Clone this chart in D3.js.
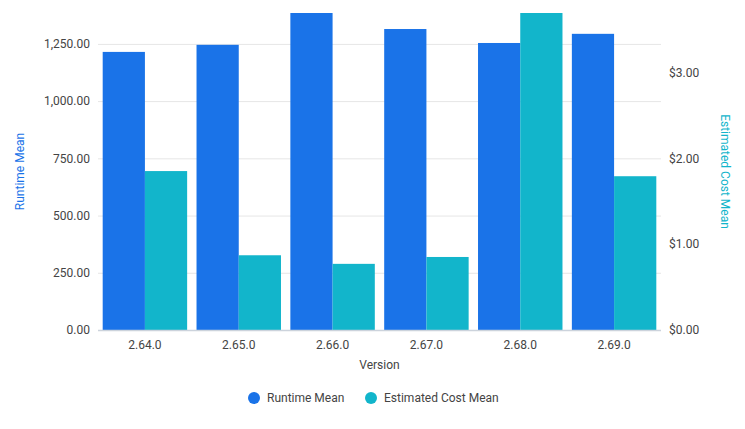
<!DOCTYPE html>
<html>
<head>
<meta charset="utf-8">
<script src="https://cdn.jsdelivr.net/npm/d3@7"></script>
<style>
  body { margin: 0; background: #fff; }
  svg text { font-family: Roboto, "Noto Sans", sans-serif; }
</style>
</head>
<body>
<div id="chart"></div>
<script>
// data
const versions = ["2.64.0", "2.65.0", "2.66.0", "2.67.0", "2.68.0", "2.69.0"];
const runtimeMean = [1215, 1246, 1385, 1315, 1254, 1294];
const costMean = [1.85, 0.87, 0.77, 0.85, 3.69, 1.79];
const runtimeTicks = [0, 250, 500, 750, 1000, 1250];
const costTicks = [0, 1, 2, 3];
const seriesNames = ["Runtime Mean", "Estimated Cost Mean"];

const colors = ["#1a73e8", "#12b5cb"];

const W = 745, H = 429;
const margin = { top: 13, right: 84, bottom: 99, left: 98 },
  width = W - margin.left - margin.right,
  height = H - margin.top - margin.bottom;

const svg = d3.select("#chart")
  .append("svg")
  .attr("width", W)
  .attr("height", H);

const g = svg.append("g")
  .attr("transform", "translate(" + margin.left + "," + margin.top + ")");

const x = d3.scaleBand()
  .domain(versions)
  .range([0, width])
  .paddingInner(0.1)
  .paddingOuter(0.05);

const x1 = d3.scaleBand()
  .domain([0, 1])
  .range([0, x.bandwidth()]);

const yLeft = d3.scaleLinear()
  .domain([0, d3.max(runtimeMean)])
  .range([height, 0]);

const yRight = d3.scaleLinear()
  .domain([0, d3.max(costMean)])
  .range([height, 0]);

// gridlines from the left axis
g.append("g")
  .selectAll("line")
  .data(runtimeTicks.slice(1))
  .enter().append("line")
  .attr("x1", 0)
  .attr("x2", width)
  .attr("y1", d => yLeft(d) + 0.5)
  .attr("y2", d => yLeft(d) + 0.5)
  .attr("stroke", "#e6e6e6")
  .attr("stroke-width", 1);

// bars
const groups = g.selectAll(".grp")
  .data(versions.map((v, i) => ({ v, vals: [runtimeMean[i], costMean[i]] })))
  .enter().append("g")
  .attr("class", "grp")
  .attr("transform", d => "translate(" + x(d.v) + ",0)");

groups.append("rect")
  .attr("x", x1(0))
  .attr("width", x1.bandwidth())
  .attr("y", d => yLeft(d.vals[0]))
  .attr("height", d => height - yLeft(d.vals[0]))
  .attr("fill", colors[0]);

groups.append("rect")
  .attr("x", x1(1))
  .attr("width", x1.bandwidth())
  .attr("y", d => yRight(d.vals[1]))
  .attr("height", d => height - yRight(d.vals[1]))
  .attr("fill", colors[1]);

// baseline
g.append("line")
  .attr("x1", 0)
  .attr("x2", width)
  .attr("y1", height + 0.5)
  .attr("y2", height + 0.5)
  .attr("stroke", "#ccd3dc")
  .attr("stroke-width", 1.5);

// left axis
const leftAxis = g.append("g")
  .call(d3.axisLeft(yLeft).tickValues(runtimeTicks).tickFormat(d3.format(",.2f")).tickSize(0).tickPadding(8));
leftAxis.select(".domain").remove();
leftAxis.selectAll("text").attr("fill", "#444").style("font-size", "12px");

// right axis
const rightAxis = g.append("g")
  .attr("transform", "translate(" + width + ",0)")
  .call(d3.axisRight(yRight).tickValues(costTicks).tickFormat(d3.format("$.2f")).tickSize(0).tickPadding(8));
rightAxis.select(".domain").remove();
rightAxis.selectAll("text").attr("fill", "#444").style("font-size", "12px");

// bottom axis
const bottomAxis = g.append("g")
  .attr("transform", "translate(0," + height + ")")
  .call(d3.axisBottom(x).tickSize(0).tickPadding(10));
bottomAxis.select(".domain").remove();
bottomAxis.selectAll("text").attr("fill", "#444").style("font-size", "12px");

// axis titles
g.append("text")
  .attr("transform", "translate(" + (20 - margin.left) + "," + (height / 2) + ") rotate(-90)")
  .attr("text-anchor", "middle")
  .attr("dominant-baseline", "central")
  .attr("fill", colors[0])
  .style("font-size", "12px")
  .text("Runtime Mean");

g.append("text")
  .attr("transform", "translate(" + (width + 64) + "," + (height / 2) + ") rotate(90)")
  .attr("text-anchor", "middle")
  .attr("dominant-baseline", "central")
  .attr("fill", colors[1])
  .style("font-size", "12px")
  .text("Estimated Cost Mean");

g.append("text")
  .attr("x", width / 2)
  .attr("y", height + 35)
  .attr("text-anchor", "middle")
  .attr("dominant-baseline", "central")
  .attr("fill", "#444")
  .style("font-size", "12px")
  .text("Version");

// legend
const legendX = [254, 371];
const legend = svg.append("g")
  .selectAll("g")
  .data(seriesNames)
  .enter().append("g")
  .attr("transform", (d, i) => "translate(" + legendX[i] + ",398)");

legend.append("circle")
  .attr("r", 6)
  .attr("fill", (d, i) => colors[i]);

legend.append("text")
  .attr("x", 13)
  .attr("dominant-baseline", "central")
  .attr("fill", "#444")
  .style("font-size", "12px")
  .text(d => d);
</script>
</body>
</html>
